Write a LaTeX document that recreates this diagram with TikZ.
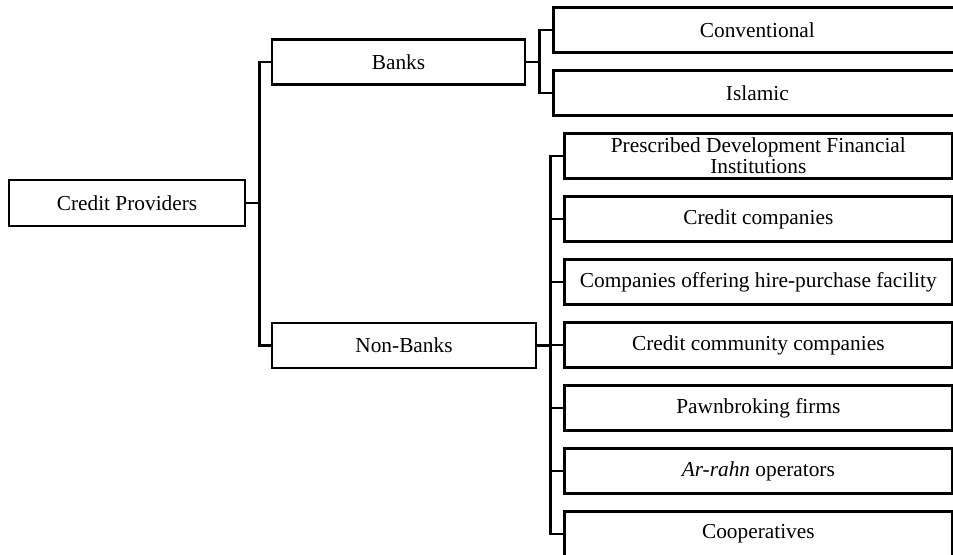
\documentclass[tikz,border=0pt]{standalone}
\usepackage{fontspec}
\setmainfont{Liberation Serif}
\usepackage{tikz}
\usetikzlibrary{positioning}

\begin{document}
\begin{tikzpicture}[
    x=0.75pt, y=-0.75pt,
    node distance=11.5pt,
    box/.style={draw=black, line width=2pt, align=center, inner sep=0pt, font=\fontsize{16}{16}\selectfont},
    mainbox/.style={box, minimum width=177pt, minimum height=34.5pt},
    groupbox/.style={box, minimum height=33.75pt},
    leafbox/.style={box, minimum height=33.75pt},
    link/.style={line width=2pt},
]
    % Frame
    \useasboundingbox (0,0) rectangle (953,555);
    \clip (0,0) rectangle (953,555);

    % Root and groups
    \node[mainbox] (credit) at (127,203) {Credit Providers};
    \node[groupbox, minimum width=189.75pt] (banks) at (398.5,62) {Banks};
    \node[groupbox, minimum width=198pt] (nonbanks) at (404,345.5) {Non-Banks};

    % Banks
    \node[leafbox, minimum width=306pt, anchor=west] (conv) at (552,30) {Conventional};
    \node[leafbox, minimum width=306pt, below=of conv] (islamic) {Islamic};

    % Non-Banks
    \node[leafbox, minimum width=291pt, anchor=west] (pdfi) at (563,156) {Prescribed Development Financial\\Institutions};
    \node[leafbox, minimum width=291pt, below=of pdfi] (credco) {Credit companies};
    \node[leafbox, minimum width=291pt, below=of credco] (hire) {Companies offering hire-purchase facility};
    \node[leafbox, minimum width=291pt, below=of hire] (commun) {Credit community companies};
    \node[leafbox, minimum width=291pt, below=of commun] (pawn) {Pawnbroking firms};
    \node[leafbox, minimum width=291pt, below=of pawn] (rahn) {\textit{Ar-rahn} operators};
    \node[leafbox, minimum width=291pt, below=of rahn] (coop) {Cooperatives};

    % Connections
    \draw[link] (credit.east) -- ++(9.75pt,0) coordinate (creditfork);
    \draw[link] (creditfork) |- (banks);
    \draw[link] (creditfork) |- (nonbanks);

    \draw[link] (banks.east) -- ++(9.75pt,0) coordinate (banksfork);
    \draw[link] (banksfork) |- (conv);
    \draw[link] (banksfork) |- (islamic);

    \draw[link] (nonbanks.east) -- ++(10pt,0) coordinate (nbfork);
    \foreach \n in {pdfi,credco,hire,commun,pawn,rahn,coop}
        \draw[link] (nbfork) |- (\n);
\end{tikzpicture}
\end{document}
